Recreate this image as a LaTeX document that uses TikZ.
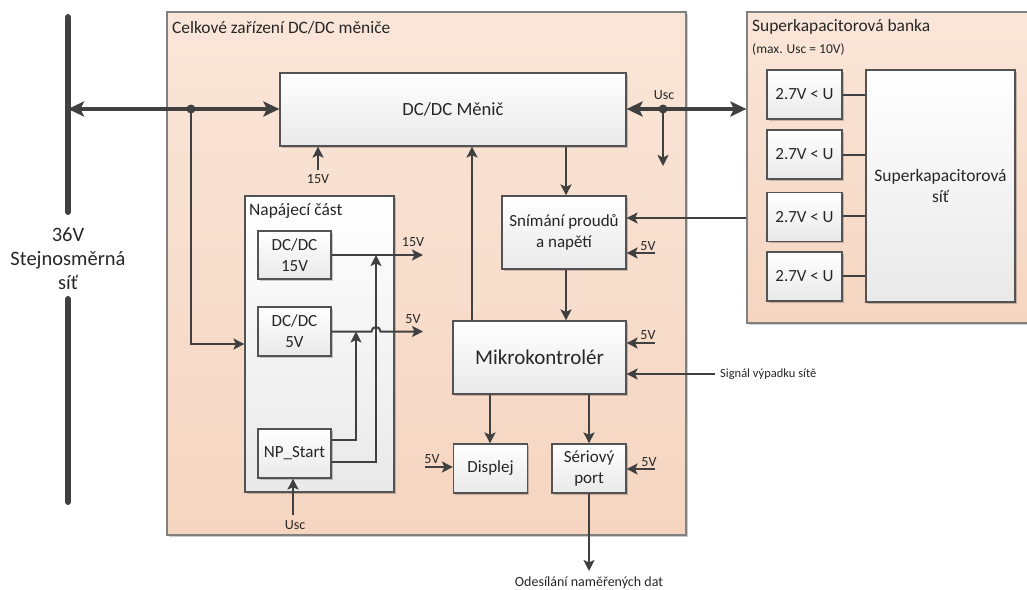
\documentclass[tikz,border=0pt]{standalone}
\usepackage{fontspec}
\setmainfont{Carlito}
\usetikzlibrary{arrows.meta,shadows,calc}
\definecolor{ln}{HTML}{404040}
\definecolor{peachT}{HTML}{FAE6D9}
\definecolor{peachB}{HTML}{F5D5C0}
\definecolor{bd}{HTML}{808080}
\definecolor{bxB}{HTML}{E9E9E9}
\tikzset{
  blk/.style={draw=ln!90, line width=1.2pt, top color=white, bottom color=bxB,
    inner sep=0pt, align=center, text=black!85, font=\fontsize{17}{21}\selectfont,
    drop shadow={shadow xshift=1.5pt, shadow yshift=-1.5pt, opacity=0.2, fill=black}},
  grp/.style={draw=bd, line width=1.2pt, top color=peachT, bottom color=peachB, inner sep=0pt,
    drop shadow={shadow xshift=1.5pt, shadow yshift=-1.5pt, opacity=0.2, fill=black}},
  conn/.style={draw=ln, line width=2pt, -{Stealth[length=11pt,width=11pt,inset=2.5pt]}},
  plain/.style={draw=ln, line width=2pt},
  big/.style={draw=ln, line width=4.5pt, {Stealth[length=16pt,width=15pt,inset=3.5pt]}-{Stealth[length=16pt,width=15pt,inset=3.5pt]}},
  lbl/.style={inner sep=0pt, text=black!85, font=\fontsize{14}{16}\selectfont},
  ttl/.style={inner sep=0pt, anchor=west, text=black!85, font=\fontsize{17.4}{20}\selectfont},
}
\begin{document}
\begin{tikzpicture}[x=1pt,y=-1pt]
\useasboundingbox (0,0) rectangle (1027,589);
% groups
\node[grp, minimum width=519, minimum height=523] (outer) at (426.5,273.5) {};
\node[ttl] (outerT) at (172,28) {Celkové zařízení DC/DC měniče};
\node[grp, minimum width=282, minimum height=311] (bank) at (888,167.5) {};
\node[ttl] (bankT) at (752,27) {Superkapacitorová banka};
\node[ttl, font=\fontsize{13.5}{15}\selectfont] (bankT2) at (752,49) {(max. Usc = 10V)};
% main blocks
\node[blk, minimum width=346, minimum height=73, font=\fontsize{18.6}{22}\selectfont] (conv) at (453,109.5) {DC/DC Měnič};
\node[blk, minimum width=149, minimum height=296] (nap) at (319.5,344) {};
\node[ttl] (napT) at (249,211) {Napájecí část};
\node[blk, minimum width=73, minimum height=48] (dc15) at (294.5,255) {DC/DC\\15V};
\node[blk, minimum width=73, minimum height=49] (dc5) at (294.5,331.5) {DC/DC\\5V};
\node[blk, minimum width=73, minimum height=49] (np) at (294.5,453.5) {NP\_Start};
\node[blk, minimum width=124, minimum height=73] (sn) at (564,232.5) {Snímání proudů\\a napětí};
\node[blk, minimum width=173, minimum height=73, font=\fontsize{21}{25}\selectfont] (mk) at (539.5,357.5) {Mikrokontrolér};
\node[blk, minimum width=74, minimum height=49] (dis) at (490.5,468.5) {Displej};
\node[blk, minimum width=74, minimum height=49] (ser) at (589,468.5) {Sériový\\port};
% supercap bank
\node[blk, minimum width=75, minimum height=49] (c1) at (804.5,94.5) {2.7V < U};
\node[blk, minimum width=75, minimum height=49] (c2) at (804.5,154.5) {2.7V < U};
\node[blk, minimum width=75, minimum height=49] (c3) at (804.5,217) {2.7V < U};
\node[blk, minimum width=75, minimum height=49] (c4) at (804.5,276.5) {2.7V < U};
\node[blk, minimum width=149, minimum height=232, font=\fontsize{17.5}{21}\selectfont] (sit) at (940.5,186) {Superkapacitorová\\síť};
\foreach \c/\y in {c1/95,c2/155,c3/216,c4/276}{
  \draw[plain] (\c.east |- 0,\y) -- (sit.west |- 0,\y);
}
% DC bus
\node[inner sep=0pt, align=center, text=black!85, font=\fontsize{20.5}{24}\selectfont] (net) at (68,259) {36V\\Stejnosměrná\\síť};
\coordinate (busTop) at (68,17);
\coordinate (busBot) at (68,502);
\coordinate (busM) at (68,109);
\draw[ln, line width=6pt, line cap=round] (busTop) -- (68,212);
\draw[ln, line width=6pt, line cap=round] (68,299) -- (busBot);
\draw[big] (busM) -- (conv.west |- busM);
\coordinate (j1) at (191,109);
\fill[ln] (j1) circle (4.5);
\draw[conn] (j1) |- (nap.west);
% 15V into converter
\coordinate (v15) at (318,170);
\draw[conn] (v15) -- (v15 |- conv.south);
\node[lbl] (v15L) at (318,179) {15V};
% power section outputs
\coordinate (o15) at (423,255);
\coordinate (o5) at (423,331.5);
\draw[conn] (dc15.east |- o15) -- (o15);
\draw[conn] (dc5.east |- o5) -- (371.5,331.5) arc[start angle=180, end angle=0, radius=4.5pt] -- (o5);
\node[lbl] (o15L) at (413,242) {15V};
\node[lbl] (o5L) at (413,319) {5V};
\draw[conn] (np.east |- 0,440) -- (356,440) -- (356,331.5);
\draw[conn] (np.east |- 0,462) -- (376,462) -- (376,255);
\coordinate (uscN) at (293,515);
\draw[conn] (uscN) -- (uscN |- np.south);
\node[lbl] (uscNL) at (295,525) {Usc};
% converter links
\draw[conn] (mk.north -| 472,0) -- (conv.south -| 472,0);
\draw[conn] (conv.south -| 566,0) -- (sn.north -| 566,0);
\draw[conn] (sn.south -| 566,0) -- (mk.north -| 566,0);
\draw[conn] (bank.west |- 0,218) -- (sn.east |- 0,218);
\coordinate (s5) at (655,253);
\draw[conn] (s5) -- (s5 -| sn.east);
\node[lbl] (s5L) at (648,246) {5V};
% Usc link
\draw[big] (conv.east |- busM) -- (bank.west |- busM);
\coordinate (j2) at (663,109);
\fill[ln] (j2) circle (4.5);
\coordinate (j2d) at (663,166);
\draw[conn] (j2) -- (j2d);
\node[lbl] (uscL) at (664,95) {Usc};
% microcontroller
\coordinate (m5) at (655,343);
\draw[conn] (m5) -- (m5 -| mk.east);
\node[lbl] (m5L) at (648,335) {5V};
\coordinate (sig) at (715,374);
\draw[conn] (sig) -- (sig -| mk.east);
\node[lbl, anchor=west, font=\fontsize{12.5}{14}\selectfont] (sigL) at (720,374) {Signál výpadku sítě};
\draw[conn] (mk.south -| 490,0) -- (dis.north -| 490,0);
\draw[conn] (mk.south -| 589,0) -- (ser.north);
\coordinate (d5) at (425,467);
\draw[conn] (d5) -- (d5 -| dis.west);
\node[lbl] (d5L) at (432,459) {5V};
\coordinate (r5) at (655,469);
\draw[conn] (r5) -- (r5 -| ser.east);
\node[lbl] (r5L) at (649,462) {5V};
\coordinate (out) at (589,571);
\draw[conn] (ser.south) -- (out);
\node[lbl, font=\fontsize{14}{16}\selectfont] (outL) at (589,583) {Odesílání naměřených dat};
\end{tikzpicture}
\end{document}
